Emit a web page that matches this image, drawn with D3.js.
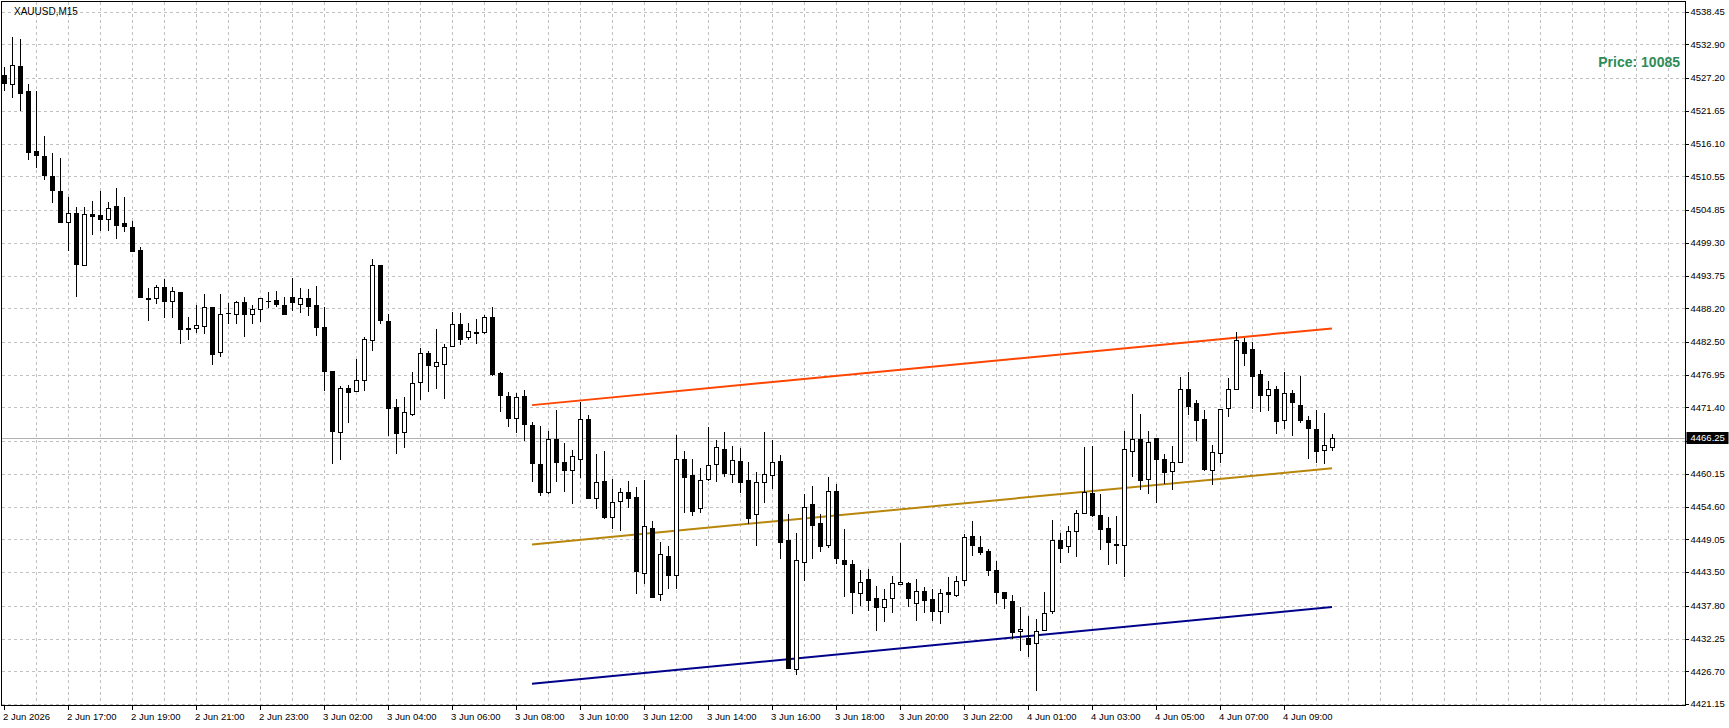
<!DOCTYPE html>
<html>
<head>
<meta charset="utf-8">
<script src="https://cdn.jsdelivr.net/npm/d3@7"></script>
<style>
  html, body { margin: 0; padding: 0; background: #fff; }
  svg { display: block; }
  text { font-family: "Liberation Sans", Arial, sans-serif; }
</style>
</head>
<body>
<svg id="chart" width="1729" height="728"></svg>
<script>
// XAUUSD M15 candles
const opens = [
  4527.7,4526.1,4529.2,4525.0,4514.9,4514.0,4510.7,4508.1,4502.8,4504.4,
  4495.5,4504.2,4504.0,4503.3,4505.6,4502.7,4502.0,4498.1,4490.0,4489.9,
  4491.8,4489.4,4490.9,4484.8,4484.8,4485.2,4488.5,4480.8,4487.35,4487.3,
  4489.2,4487.1,4488.2,4489.5,4489.55,4488.8,4490.1,4488.9,4489.9,4488.7,
  4485.0,4477.5,4467.3,4474.7,4474.1,4476.0,4482.8,4495.5,4486.1,4471.4,
  4467.2,4470.2,4475.8,4480.6,4478.4,4478.7,4481.9,4485.6,4483.2,4484.0,
  4484.1,4486.7,4477.2,4473.3,4469.6,4473.4,4468.5,4461.9,4457.1,4466.1,
  4462.1,4460.7,4462.7,4469.4,4456.1,4458.9,4452.9,4455.6,4457.1,4456.3,
  4443.5,4451.0,4439.7,4446.2,4442.9,4462.6,4460.0,4454.3,4459.3,4461.8,
  4464.3,4460.2,4462.3,4459.1,4453.3,4458.7,4459.9,4462.3,4449.0,4427.1,
  4445.3,4455.0,4451.9,4448.0,4457.2,4445.6,4444.8,4440.1,4442.3,4439.2,
  4437.7,4439.0,4441.6,4441.6,4438.3,4440.3,4438.9,4436.8,4440.1,4439.7,
  4442.1,4449.6,4447.7,4447.1,4443.8,4440.1,4438.7,4433.4,4432.3,4431.6,
  4433.7,4436.8,4449.0,4447.9,4450.4,4453.5,4456.9,4453.2,4450.9,4448.2,
  4448.0,4464.0,4466.0,4459.3,4466.2,4462.7,4460.5,4462.2,4474.6,4472.1,
  4469.4,4460.7,4463.8,4471.2,4474.5,4482.5,4481.3,4477.0,4473.4,4474.6,
  4469.2,4473.8,4471.9,4469.2,4467.8,4464.1,4464.8
];
const highs = [
  4529.0,4534.2,4533.8,4526.2,4525.0,4517.4,4514.5,4513.7,4507.1,4505.4,
  4505.4,4506.4,4508.1,4506.2,4508.6,4507.1,4503.0,4498.6,4491.6,4492.1,
  4493.1,4491.8,4490.9,4486.7,4488.8,4490.7,4488.5,4490.6,4489.1,4489.5,
  4490.2,4488.7,4490.0,4490.9,4491.1,4490.1,4493.3,4491.6,4491.4,4492.0,
  4488.5,4477.5,4475.1,4475.2,4479.6,4483.4,4496.5,4495.6,4487.2,4472.8,
  4473.2,4477.4,4481.5,4480.9,4484.7,4482.1,4487.5,4487.4,4485.7,4486.4,
  4487.1,4488.4,4477.4,4474.0,4473.8,4474.3,4468.9,4468.2,4467.4,4471.0,
  4465.3,4464.2,4472.4,4470.1,4463.5,4464.0,4459.2,4457.7,4458.9,4457.9,
  4459.1,4452.2,4448.6,4448.0,4466.7,4464.1,4462.7,4461.2,4468.1,4465.9,
  4467.3,4464.9,4464.6,4462.2,4460.5,4467.3,4465.9,4463.4,4453.3,4450.2,
  4456.7,4458.1,4453.3,4459.7,4458.4,4450.8,4445.5,4443.8,4444.0,4441.2,
  4440.6,4442.8,4448.5,4441.9,4442.3,4441.0,4440.6,4440.6,4442.6,4442.8,
  4450.0,4452.2,4449.6,4447.4,4445.4,4440.2,4439.6,4437.6,4436.1,4435.6,
  4440.2,4452.4,4450.2,4451.4,4454.1,4464.7,4464.8,4456.7,4452.8,4453.0,
  4467.5,4473.7,4470.3,4467.4,4466.2,4463.6,4464.8,4476.5,4477.4,4472.6,
  4471.0,4465.0,4471.2,4476.4,4484.2,4483.1,4482.5,4477.7,4475.9,4475.0,
  4477.4,4474.4,4476.8,4470.0,4470.9,4470.4,4466.9
];
const lows = [
  4525.0,4523.9,4521.7,4513.4,4511.9,4510.0,4506.1,4502.6,4497.85,4490.2,
  4495.5,4500.7,4501.3,4501.3,4500.0,4501.2,4497.8,4489.9,4486.1,4489.0,
  4486.5,4486.5,4482.1,4482.8,4484.1,4483.9,4478.6,4480.0,4485.5,4485.5,
  4483.4,4485.5,4485.9,4488.2,4488.4,4487.2,4487.7,4487.4,4486.9,4483.5,
  4474.2,4461.9,4462.5,4468.8,4474.1,4474.2,4481.0,4485.6,4466.6,4463.6,
  4464.6,4469.9,4472.6,4474.0,4474.6,4472.8,4481.9,4482.0,4482.9,4482.2,
  4483.8,4476.7,4470.7,4468.1,4467.1,4465.7,4458.8,4456.4,4456.8,4458.8,
  4457.1,4455.1,4459.5,4456.0,4454.2,4452.5,4450.8,4450.5,4454.3,4439.8,
  4441.5,4439.1,4438.6,4440.6,4440.6,4453.5,4453.1,4453.6,4458.9,4458.8,
  4459.6,4458.6,4456.9,4451.7,4448.0,4455.3,4457.6,4445.8,4427.4,4426.1,
  4442.0,4445.8,4446.9,4447.6,4444.8,4439.3,4436.4,4437.8,4436.9,4433.6,
  4435.1,4436.6,4441.3,4437.6,4435.2,4436.6,4435.2,4434.8,4436.6,4439.3,
  4441.2,4446.3,4446.4,4442.9,4438.1,4437.2,4432.1,4430.1,4429.1,4423.3,
  4433.7,4436.4,4445.1,4446.8,4446.1,4453.3,4452.8,4447.3,4444.7,4444.9,
  4442.7,4459.7,4457.4,4456.7,4455.3,4458.4,4457.5,4462.2,4470.2,4465.7,
  4460.7,4458.3,4462.0,4469.8,4474.5,4478.4,4471.2,4470.7,4470.8,4466.9,
  4467.8,4466.6,4468.7,4462.7,4462.0,4461.8,4464.0
];
const closes = [
  4526.4,4529.35,4524.7,4514.75,4514.25,4510.7,4508.3,4502.9,4504.4,4495.8,
  4504.2,4503.9,4503.3,4505.2,4502.4,4502.2,4498.0,4490.1,4489.9,4491.8,
  4489.5,4491.1,4484.6,4484.6,4485.3,4488.5,4480.6,4487.2,4487.35,4489.3,
  4487.1,4488.0,4490.0,4489.5,4488.9,4487.2,4489.3,4490.0,4488.6,4484.9,
  4477.5,4467.3,4474.7,4474.1,4476.0,4483.0,4495.5,4486.1,4471.4,4467.0,
  4470.6,4475.5,4480.7,4478.5,4479.1,4481.6,4485.6,4483.0,4484.3,4484.2,
  4486.7,4477.1,4473.4,4469.5,4473.1,4468.6,4462.0,4457.1,4466.1,4462.2,
  4460.7,4463.1,4469.4,4456.0,4458.8,4452.8,4455.4,4457.1,4456.1,4443.7,
  4451.4,4439.3,4446.5,4442.9,4462.6,4459.6,4453.9,4459.1,4461.6,4464.7,
  4460.2,4462.5,4458.8,4452.6,4458.7,4460.1,4462.1,4448.5,4427.4,4445.5,
  4454.6,4451.5,4448.0,4457.2,4445.9,4444.9,4440.1,4441.9,4438.8,4437.6,
  4439.0,4441.6,4441.9,4439.0,4440.3,4438.7,4436.8,4439.9,4439.7,4442.0,
  4449.4,4448.0,4446.8,4443.9,4440.0,4439.0,4433.5,4433.8,4431.3,4433.6,
  4436.5,4448.9,4447.6,4450.4,4453.5,4457.0,4453.1,4450.9,4448.5,4448.0,
  4464.3,4466.0,4459.1,4465.5,4462.7,4460.5,4462.1,4474.6,4471.7,4469.3,
  4460.9,4463.8,4471.2,4474.5,4482.8,4480.7,4476.8,4473.4,4474.5,4469.2,
  4473.8,4472.3,4469.3,4467.8,4464.0,4465.0,4466.25
];

// price axis labels and time labels
const priceTicks = [4538.45,4532.90,4527.20,4521.65,4516.10,4510.55,4504.85,4499.30,
  4493.75,4488.20,4482.50,4476.95,4471.40,4465.80,4460.15,4454.60,4449.05,4443.50,
  4437.80,4432.25,4426.70,4421.15];
const timeLabels = ["2 Jun 2026","2 Jun 17:00","2 Jun 19:00","2 Jun 21:00","2 Jun 23:00",
  "3 Jun 02:00","3 Jun 04:00","3 Jun 06:00","3 Jun 08:00","3 Jun 10:00","3 Jun 12:00",
  "3 Jun 14:00","3 Jun 16:00","3 Jun 18:00","3 Jun 20:00","3 Jun 22:00","4 Jun 01:00",
  "4 Jun 03:00","4 Jun 05:00","4 Jun 07:00","4 Jun 09:00"];
const bidPrice = 4466.25;

// regression channel: [startIndex, startPrice, endIndex, endPrice]
const channelLines = [
  { name: "upper",  color: "#ff4500", pts: [66, 4471.8, 166, 4484.8] },
  { name: "middle", color: "#b8860b", pts: [66, 4448.2, 166, 4461.1] },
  { name: "lower",  color: "#00008b", pts: [66, 4424.6, 166, 4437.6] }
];

const svg = d3.select('#chart');
const plotLeft = 1.5, plotTop = 1.5, plotRight = 1685.5, plotBottom = 705.5;

const x = d3.scaleLinear().domain([0, 1]).range([4, 12]);   // 8px per bar
const y = d3.scaleLinear().domain([4421.15, 4538.45]).range([704.1, 11.7]);

const bars = opens.map((o, i) => ({ i, o, h: highs[i], l: lows[i], c: closes[i] }));
const px = v => Math.round(v) + 0.5;

// --- GRID ---
const grid = svg.append('g').attr('class', 'grid')
  .attr('stroke', '#c0c0c0').attr('stroke-dasharray', '3,3').attr('shape-rendering', 'crispEdges');
grid.selectAll('line.h').data(priceTicks).join('line')
  .attr('x1', plotLeft).attr('x2', plotRight)
  .attr('y1', d => px(y(d))).attr('y2', d => px(y(d)));
grid.selectAll('line.v').data(d3.range(4, 211, 4)).join('line')
  .attr('x1', d => px(x(d))).attr('x2', d => px(x(d)))
  .attr('y1', plotTop).attr('y2', plotBottom);

// bid line
svg.append('line')
  .attr('x1', plotLeft).attr('x2', plotRight)
  .attr('y1', px(y(bidPrice))).attr('y2', px(y(bidPrice)))
  .attr('stroke', '#b0b0b0').attr('shape-rendering', 'crispEdges');

// --- CHANNEL ---
svg.append('g').selectAll('line').data(channelLines).join('line')
  .attr('x1', d => x(d.pts[0])).attr('y1', d => y(d.pts[1]))
  .attr('x2', d => x(d.pts[2])).attr('y2', d => y(d.pts[3]))
  .attr('stroke', d => d.color).attr('stroke-width', 2);

// --- CANDLES ---
const cg = svg.append('g').attr('shape-rendering', 'crispEdges');
cg.selectAll('line.wick').data(bars).join('line')
  .attr('x1', d => px(x(d.i))).attr('x2', d => px(x(d.i)))
  .attr('y1', d => y(d.h)).attr('y2', d => y(d.l))
  .attr('stroke', '#000');
cg.selectAll('rect.body').data(bars).join('rect')
  .attr('x', d => Math.round(x(d.i)) - 1.5)
  .attr('width', 4)
  .attr('y', d => Math.round(y(Math.max(d.o, d.c))) + 0.5)
  .attr('height', d => Math.max(0.01, Math.round(Math.abs(y(d.o) - y(d.c)))))
  .attr('fill', d => d.c >= d.o ? '#fff' : '#000')
  .attr('stroke', '#000');

// --- FRAME ---
svg.append('rect')
  .attr('x', plotLeft).attr('y', plotTop)
  .attr('width', plotRight - plotLeft).attr('height', plotBottom - plotTop)
  .attr('fill', 'none').attr('stroke', '#000').attr('shape-rendering', 'crispEdges');

// price axis
const ya = svg.append('g').attr('font-size', 9.5).attr('fill', '#000');
ya.selectAll('line').data(priceTicks).join('line')
  .attr('x1', plotRight).attr('x2', plotRight + 3)
  .attr('y1', d => px(y(d))).attr('y2', d => px(y(d)))
  .attr('stroke', '#000').attr('shape-rendering', 'crispEdges');
ya.selectAll('text').data(priceTicks.filter(d => d !== 4465.80)).join('text')
  .attr('x', plotRight + 5).attr('y', d => y(d)).attr('dy', '0.35em')
  .text(d => d.toFixed(2));

// bid label
svg.append('rect').attr('x', plotRight + 1).attr('y', Math.round(y(bidPrice)) - 6)
  .attr('width', 42).attr('height', 12).attr('fill', '#000');
svg.append('text').attr('x', plotRight + 5).attr('y', y(bidPrice)).attr('dy', '0.35em')
  .attr('font-size', 9.5).attr('fill', '#fff').text(bidPrice.toFixed(2));

// time axis
const xa = svg.append('g').attr('font-size', 9.5).attr('fill', '#000');
xa.selectAll('line').data(timeLabels).join('line')
  .attr('x1', (d, k) => px(x(k * 8))).attr('x2', (d, k) => px(x(k * 8)))
  .attr('y1', plotBottom).attr('y2', plotBottom + 4)
  .attr('stroke', '#000').attr('shape-rendering', 'crispEdges');
xa.selectAll('text').data(timeLabels).join('text')
  .attr('x', (d, k) => x(k * 8) - 1).attr('y', 720)
  .text(d => d);

// titles
svg.append('text').attr('x', 14).attr('y', 15).attr('font-size', 10).text('XAUUSD,M15');
svg.append('text').attr('x', 1680).attr('y', 67).attr('text-anchor', 'end')
  .attr('font-size', 14).attr('font-weight', 'bold').attr('fill', '#2e8b57')
  .text('Price: 10085');
</script>
</body>
</html>
